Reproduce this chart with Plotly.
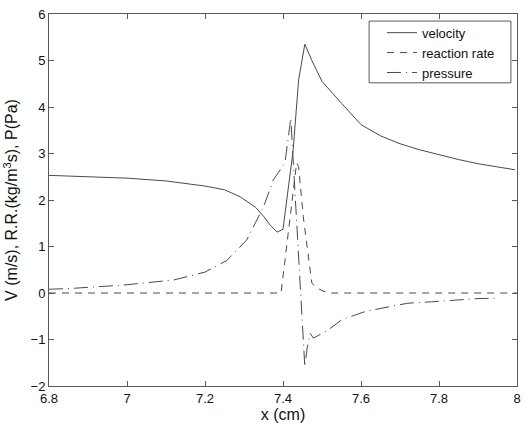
import plotly.graph_objects as go

# velocity (solid)
vel_x = [6.80, 6.90, 7.00, 7.10, 7.20, 7.25, 7.29, 7.33, 7.35, 7.367, 7.385, 7.40,
         7.426, 7.44, 7.456, 7.474, 7.50, 7.55, 7.60, 7.65, 7.70, 7.75, 7.80, 7.85,
         7.90, 7.95, 7.995]
vel_y = [2.53, 2.50, 2.47, 2.41, 2.30, 2.22, 2.07, 1.84, 1.65, 1.46, 1.31, 1.37,
         3.07, 4.58, 5.35, 5.00, 4.55, 4.08, 3.62, 3.38, 3.21, 3.08, 2.97, 2.87,
         2.78, 2.71, 2.65]

# reaction rate (dashed)
rr_x = [6.80, 7.395, 7.435, 7.44, 7.452, 7.465, 7.474, 7.486, 7.50, 7.52, 8.00]
rr_y = [0.0, 0.0, 2.80, 2.72, 1.64, 0.78, 0.21, 0.12, 0.05, 0.0, 0.0]

# pressure (dash-dot)
p_x = [6.80, 6.86, 6.99, 7.12, 7.20, 7.256, 7.307, 7.35, 7.375, 7.405, 7.42, 7.456,
       7.462, 7.47, 7.478, 7.50, 7.515, 7.55, 7.61, 7.67, 7.72, 7.78, 7.85, 7.90, 7.95]
p_y = [0.08, 0.10, 0.17, 0.28, 0.45, 0.70, 1.14, 1.85, 2.43, 2.80, 3.76, -1.59,
       -1.18, -0.87, -0.97, -0.87, -0.80, -0.58, -0.40, -0.30, -0.22, -0.19, -0.14,
       -0.12, -0.11]

x_ticks = [6.8, 7.0, 7.2, 7.4, 7.6, 7.8, 8.0]
x_labels = ["6.8", "7", "7.2", "7.4", "7.6", "7.8", "8"]
y_ticks = [-2, -1, 0, 1, 2, 3, 4, 5, 6]

LINE = "#4a4a4a"
AXIS = "#5a5a5a"
FONT = "Arial, Liberation Sans, sans-serif"

fig = go.Figure()
fig.add_trace(go.Scatter(x=vel_x, y=vel_y, name="velocity", mode="lines",
                         line=dict(color=LINE, width=1)))
fig.add_trace(go.Scatter(x=rr_x, y=rr_y, name="reaction rate", mode="lines",
                         line=dict(color=LINE, width=1, dash="7px,6px")))
fig.add_trace(go.Scatter(x=p_x, y=p_y, name="pressure", mode="lines",
                         line=dict(color=LINE, width=1, dash="14px,5px,1px,5px")))

# legend box, matlab style (wider than plotly's own border)
fig.add_shape(type="rect", xref="paper", yref="paper",
              x0=0.684, x1=0.987, y0=0.815, y1=0.981,
              line=dict(color=AXIS, width=1), fillcolor="white", layer="above")

fig.update_layout(
    width=528, height=427,
    margin=dict(l=49, r=11, t=14, b=41),
    paper_bgcolor="white", plot_bgcolor="white",
    font=dict(family=FONT, size=13, color="#111111"),
    showlegend=True,
    legend=dict(x=0.7115, y=0.99, xanchor="left", yanchor="top",
                bgcolor="rgba(0,0,0,0)", borderwidth=0,
                font=dict(size=13), tracegroupgap=0),
    xaxis=dict(range=[6.8, 8.0], tickvals=x_ticks, ticktext=x_labels,
               ticks="inside", ticklen=5, tickcolor=AXIS,
               showline=True, linecolor=AXIS, linewidth=1, mirror="ticks",
               showgrid=False, zeroline=False, automargin=False,
               title=dict(text="x (cm)", standoff=2)),
    yaxis=dict(range=[-2, 6], tickvals=y_ticks,
               ticks="inside", ticklen=5, tickcolor=AXIS,
               showline=True, linecolor=AXIS, linewidth=1, mirror="ticks",
               showgrid=False, zeroline=False, automargin=False,
               title=dict(text="V (m/s), R.R.(kg/m<sup>3</sup>s), P(Pa)", standoff=8)),
)

# page body has a default 8px margin, drop it so the figure sits at 0,0
fig.write_html("out.html", config={"displayModeBar": False},
               post_script="document.body.style.margin='0';")
